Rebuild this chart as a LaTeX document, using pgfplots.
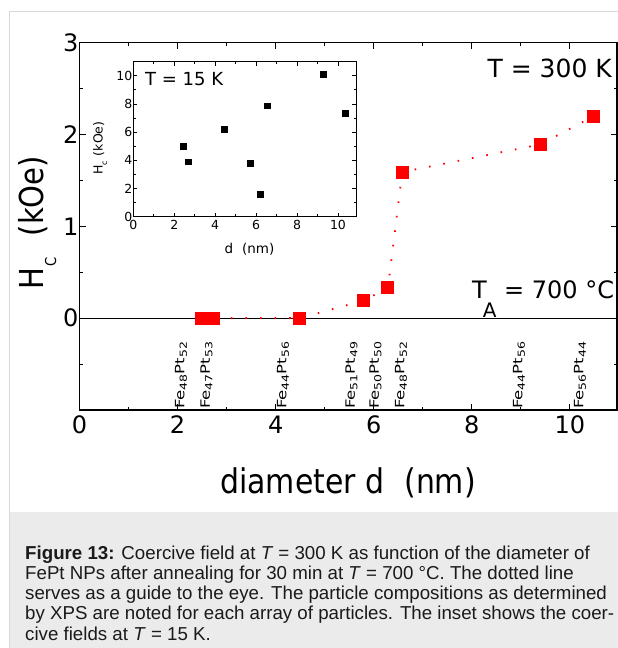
\documentclass[border=0pt]{standalone}
\usepackage{fontspec}
\setmainfont{DejaVu Sans}
\newfontfamily\capfont{Liberation Sans}
\newfontfamily\condfont[FakeStretch=0.88]{DejaVu Sans}
\usepackage{graphicx}
\usepackage{pgfplots}
\usepackage{pgfplotstable}
\pgfplotsset{compat=1.18}
\definecolor{capbg}{HTML}{EBEBEB}
\definecolor{panelline}{HTML}{D9D9D9}
\definecolor{capfg}{HTML}{1A1A1A}
\definecolor{hcred}{HTML}{FF0000}

\pgfplotstableread{
x y
2.49 0
2.73 0
4.49 0
5.79 0.19
6.29 0.33
6.58 1.59
9.39 1.89
10.49 2.20
}\maindata

\pgfplotstableread{
x y
2.47 4.97
2.70 3.88
4.46 6.17
5.73 3.76
6.23 1.59
6.54 7.85
9.29 10.12
10.36 7.33
}\insetdata

\newcommand{\sub}[1]{\raisebox{-3.2pt}{\fontsize{12.5}{12.5}\selectfont #1}}
\newcommand{\comp}[2]{\scalebox{1}[0.78]{\fontsize{16.5}{16.5}\selectfont Fe\sub{#1}Pt\sub{#2}}}

\begin{document}
\begin{tikzpicture}[x=1pt,y=1pt]
\useasboundingbox (0pt,0pt) rectangle (618pt,-648pt);
\fill[white] (0pt,0pt) rectangle (618pt,-648pt);
\fill[capbg] (9pt,-511.7pt) rectangle (618pt,-648pt);
\draw[panelline, line width=1pt] (9pt,-648pt) -- (9pt,-11pt) -- (618pt,-11pt);

% main axis
\begin{axis}[
  at={(79.5pt,-410pt)}, anchor=south west,
  scale only axis, width=537.5pt, height=367.5pt,
  xmin=0, xmax=10.96, ymin=-1, ymax=3,
  xtick={0,2,4,6,8,10}, minor xtick={1,3,5,7,9},
  ytick={0,1,2,3}, minor ytick={-0.5,0.5,1.5,2.5},
  tick align=inside,
  major tick length=6pt, minor tick length=3pt,
  axis line style={line width=1.1pt},
  every tick/.style={black, line width=0.9pt},
  /pgf/number format/assume math mode=true,
  ticklabel style={font=\fontsize{24}{24}\selectfont},
  yticklabel style={xshift=2.5pt},
  xticklabel style={yshift=-2pt},
]
\addplot[black, line width=1.2pt, forget plot] coordinates {(0,0) (10.96,0)};
\addplot[hcred, line width=1.8pt, dash pattern=on 1.6pt off 13pt, forget plot] table {\maindata};
\addplot[only marks, mark=square*, mark size=6pt, mark options={draw=hcred, fill=hcred, line width=0pt}] table {\maindata};
\end{axis}

% inset axis
\begin{axis}[
  at={(133.3pt,-216.7pt)}, anchor=south west,
  scale only axis, width=222.7pt, height=155pt,
  xmin=0, xmax=10.88, ymin=0, ymax=11,
  xtick={0,2,4,6,8,10}, minor xtick={1,3,5,7,9},
  ytick={0,2,4,6,8,10}, minor ytick={1,3,5,7,9},
  tick align=inside,
  major tick length=4pt, minor tick length=2.5pt,
  axis line style={line width=1pt},
  every tick/.style={black, line width=0.8pt},
  /pgf/number format/assume math mode=true,
  ticklabel style={font=\fontsize{12.5}{12.5}\selectfont},
  yticklabel style={xshift=2.5pt},
  axis background/.style={fill=white},
]
\addplot[only marks, mark=square*, mark size=2.9pt, mark options={draw=black, fill=black, line width=0pt}] table {\insetdata};
\end{axis}

% texts
\node[anchor=base east, inner sep=0] at (612pt,-77pt) {\fontsize{25}{25}\selectfont T = 300 K};
\node[anchor=base west, inner sep=0] at (472pt,-298pt) {\fontsize{24}{24}\selectfont T\kern-4pt\raisebox{-19pt}{\fontsize{20}{20}\selectfont A} = 700 °C};
\node[anchor=base, inner sep=0] at (348pt,-493pt) {\condfont\fontsize{34}{34}\selectfont diameter d\hspace{20pt}(nm)};
\node[rotate=90, anchor=base west, inner sep=0] at (43.3pt,-290pt) {\condfont\fontsize{33}{33}\selectfont H\kern1.5pt\raisebox{-12.7pt}{\fontsize{15}{15}\selectfont C}\kern21pt(kOe)};

\node[anchor=base west, inner sep=0] at (145pt,-85.7pt) {\fontsize{18}{18}\selectfont T = 15 K};
\node[anchor=base west, inner sep=0] at (224.3pt,-253.3pt) {\fontsize{13.5}{13.5}\selectfont d\hspace{9pt}(nm)};
\node[rotate=90, anchor=base west, inner sep=0] at (102.7pt,-175pt) {\fontsize{12.5}{12.5}\selectfont H\raisebox{-4.5pt}{\fontsize{8}{8}\selectfont c}\hspace{5pt}(kOe)};

% compositions
\node[rotate=90, anchor=base west, inner sep=0] at (184.4pt,-409pt) {\comp{48}{52}};
\node[rotate=90, anchor=base west, inner sep=0] at (209.9pt,-409pt) {\comp{47}{53}};
\node[rotate=90, anchor=base west, inner sep=0] at (286.4pt,-409pt) {\comp{44}{56}};
\node[rotate=90, anchor=base west, inner sep=0] at (354.9pt,-409pt) {\comp{51}{49}};
\node[rotate=90, anchor=base west, inner sep=0] at (378.9pt,-409pt) {\comp{50}{50}};
\node[rotate=90, anchor=base west, inner sep=0] at (404.4pt,-409pt) {\comp{48}{52}};
\node[rotate=90, anchor=base west, inner sep=0] at (522.4pt,-409pt) {\comp{44}{56}};
\node[rotate=90, anchor=base west, inner sep=0] at (583.4pt,-409pt) {\comp{56}{44}};

% caption
\begin{scope}[every node/.style={anchor=base west, inner sep=0, text=capfg, font=\capfont\fontsize{18.7}{18.7}\selectfont}]
\node at (25pt,-559pt) {\textbf{Figure 13:} Coercive field at \textit{T} = 300 K as function of the diameter of};
\node at (25pt,-579.3pt) {FePt NPs after annealing for 30 min at \textit{T} = 700 °C. The dotted line};
\node at (25pt,-599.6pt) {serves as a guide to the eye. The particle compositions as determined};
\node at (25pt,-619.9pt) {by XPS are noted for each array of particles. The inset shows the coer-};
\node at (25pt,-640.2pt) {cive fields at \textit{T} = 15 K.};
\end{scope}
\end{tikzpicture}
\end{document}
